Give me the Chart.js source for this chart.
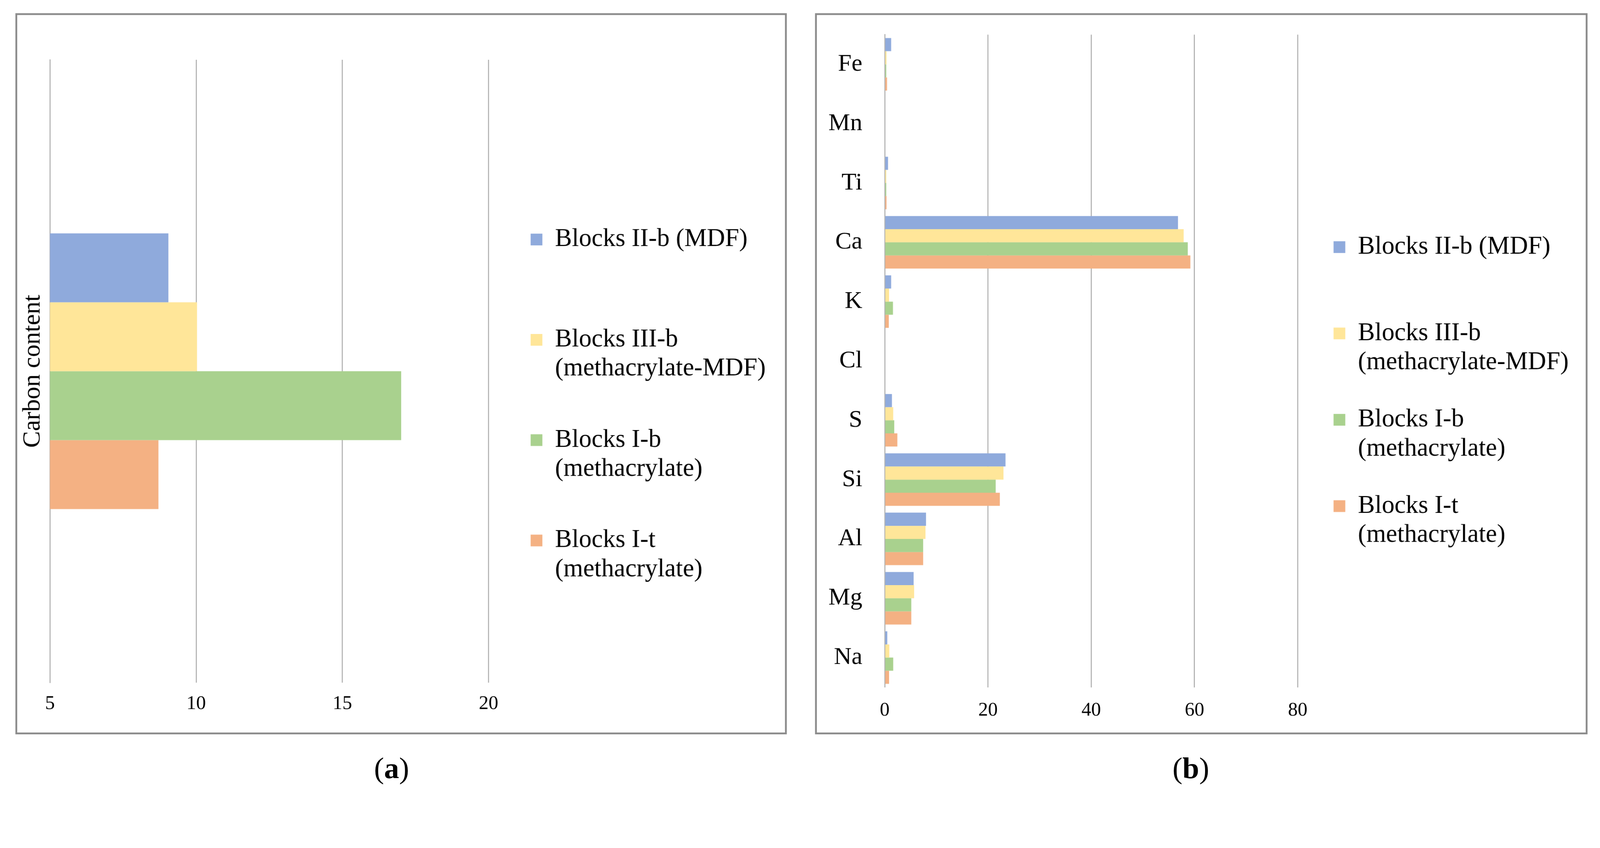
<!DOCTYPE html>
<html>
<head>
<meta charset="utf-8">
<script src="https://cdn.jsdelivr.net/npm/chart.js@4.4.1/dist/chart.umd.min.js"></script>
<style>
html,body{margin:0;padding:0;background:#fff;overflow:hidden;}
body{font-family:'Liberation Serif','Times New Roman',serif;}
#stage{position:absolute;left:0;top:0;width:4364px;height:2171px;transform-origin:0 0;background:#fff;}
.panel{position:absolute;top:36px;height:1957px;border:5px solid #8c8c8c;background:#fff;}
#pa{left:42px;width:2094px;}
#pb{left:2223px;width:2097px;}
.panel canvas{position:absolute;left:0;top:0;}
.cap{position:absolute;top:2045px;width:400px;text-align:center;font-size:82px;line-height:100px;color:#000;}
</style>
</head>
<body>
<div id="stage">
<div class="panel" id="pa"><canvas id="ca" width="2094" height="1957"></canvas></div>
<div class="panel" id="pb"><canvas id="cb" width="2097" height="1957"></canvas></div>
<div class="cap" style="left:868px">(<b>a</b>)</div>
<div class="cap" style="left:3048px">(<b>b</b>)</div>
</div>
<script>
// ---- data ----
const seriesNames = ['Blocks II-b (MDF)', 'Blocks III-b (methacrylate-MDF)', 'Blocks I-b (methacrylate)', 'Blocks I-t (methacrylate)'];
const legendLines = [['Blocks II-b (MDF)', ''], ['Blocks III-b', '(methacrylate-MDF)'], ['Blocks I-b', '(methacrylate)'], ['Blocks I-t', '(methacrylate)']];
const seriesColors = ['#8FAADC', '#FFE699', '#A9D18E', '#F4B183'];

// panel (a): carbon content
const carbonCategories = ['Carbon content'];
const carbonIIb = [9.05];
const carbonIIIb = [10.03];
const carbonIb = [17.01];
const carbonIt = [8.71];
const carbonTicks = [5, 10, 15, 20];

// panel (b): elements (top to bottom)
const elements = ['Fe', 'Mn', 'Ti', 'Ca', 'K', 'Cl', 'S', 'Si', 'Al', 'Mg', 'Na'];
const elemIIb  = [1.25, 0, 0.65, 56.8, 1.25, 0, 1.4, 23.4, 8.0, 5.6, 0.5];
const elemIIIb = [0.35, 0, 0.3, 57.9, 0.85, 0, 1.65, 23.0, 7.9, 5.7, 0.9];
const elemIb   = [0.3, 0, 0.3, 58.7, 1.6, 0, 1.85, 21.5, 7.45, 5.15, 1.65];
const elemIt   = [0.45, 0, 0.35, 59.2, 0.8, 0, 2.45, 22.3, 7.45, 5.15, 0.85];
const elemTicks = [0, 20, 40, 60, 80];

// ---- fit the 4364x2171 stage into the viewport ----
(function () {
  const sc = Math.min(window.innerWidth / 4364, window.innerHeight / 2171);
  document.getElementById('stage').style.transform = 'scale(' + sc + ')';
})();

// ---- styling ----
const FONT = "'Liberation Serif', 'Times New Roman', serif";
Chart.defaults.font.family = FONT;
Chart.defaults.color = '#000';
const GRID = '#b4b4b4';

function makeDatasets(arrs) {
  return arrs.map((d, i) => ({
    label: seriesNames[i],
    data: d,
    backgroundColor: seriesColors[i],
    borderWidth: 0
  }));
}

function legendOpts(pad, titlePad) {
  return {
    position: 'right',
    align: 'start',
    maxWidth: 1200,
    title: {display: true, text: '', padding: {top: titlePad, bottom: 0}, font: {size: 10, lineHeight: 1.2}},
    labels: {
      boxWidth: 32, boxHeight: 32, padding: pad, color: '#000',
      font: {family: FONT, size: 69, lineHeight: 1.152},
      generateLabels(chart) {
        const items = Chart.defaults.plugins.legend.labels.generateLabels(chart);
        items.forEach((it, i) => { it.text = legendLines[i]; it.lineWidth = 0; });
        return items;
      }
    }
  };
}

function noPad(s) { s.paddingTop = 0; s.paddingBottom = 0; }

// ---- chart (a) ----
new Chart(document.getElementById('ca'), {
  type: 'bar',
  data: {labels: carbonCategories, datasets: makeDatasets([carbonIIb, carbonIIIb, carbonIb, carbonIt])},
  options: {
    indexAxis: 'y',
    responsive: false, animation: false, devicePixelRatio: 1,
    categoryPercentage: 0.4426, barPercentage: 1,
    layout: {padding: {top: 122, right: 42.4, bottom: 0, left: 0}},
    plugins: {legend: legendOpts(114.7, 329), tooltip: {enabled: false}},
    scales: {
      x: {
        min: carbonTicks[0], max: carbonTicks[carbonTicks.length - 1],
        ticks: {stepSize: carbonTicks[1] - carbonTicks[0], padding: 26, color: '#000', font: {size: 53}},
        grid: {color: GRID, lineWidth: 3, drawTicks: false},
        border: {display: false},
        afterFit(s) { s.height = 136; }
      },
      y: {
        ticks: {display: false},
        grid: {display: false, drawTicks: false},
        border: {display: true, color: GRID, width: 3},
        title: {display: true, text: carbonCategories[0], color: '#000', font: {size: 68}, padding: {top: 2, bottom: 0}},
        afterFit(s) { s.width = 89.2; noPad(s); }
      }
    }
  }
});

// ---- chart (b) ----
new Chart(document.getElementById('cb'), {
  type: 'bar',
  data: {labels: elements, datasets: makeDatasets([elemIIb, elemIIIb, elemIb, elemIt])},
  options: {
    indexAxis: 'y',
    responsive: false, animation: false, devicePixelRatio: 1,
    categoryPercentage: 0.885, barPercentage: 1,
    layout: {padding: {top: 53.5, right: 36.5, bottom: 0, left: 0}},
    plugins: {legend: legendOpts(76.5, 456.5), tooltip: {enabled: false}},
    scales: {
      x: {
        min: elemTicks[0], max: elemTicks[elemTicks.length - 1],
        ticks: {stepSize: elemTicks[1] - elemTicks[0], padding: 32, color: '#000', font: {size: 53}},
        grid: {color: GRID, lineWidth: 3, drawTicks: false},
        border: {display: false},
        afterFit(s) { s.height = 123.5; }
      },
      y: {
        ticks: {padding: 61, color: '#000', font: {size: 66.5}},
        grid: {display: false, drawTicks: false},
        border: {display: true, color: GRID, width: 3},
        afterFit(s) { s.width = 185; noPad(s); }
      },
      yR: {
        type: 'category', labels: [''], position: 'right',
        ticks: {display: false},
        grid: {display: false, drawTicks: false},
        border: {display: false},
        afterFit(s) { s.width = 21.1; noPad(s); }
      }
    }
  }
});
</script>
</body>
</html>
